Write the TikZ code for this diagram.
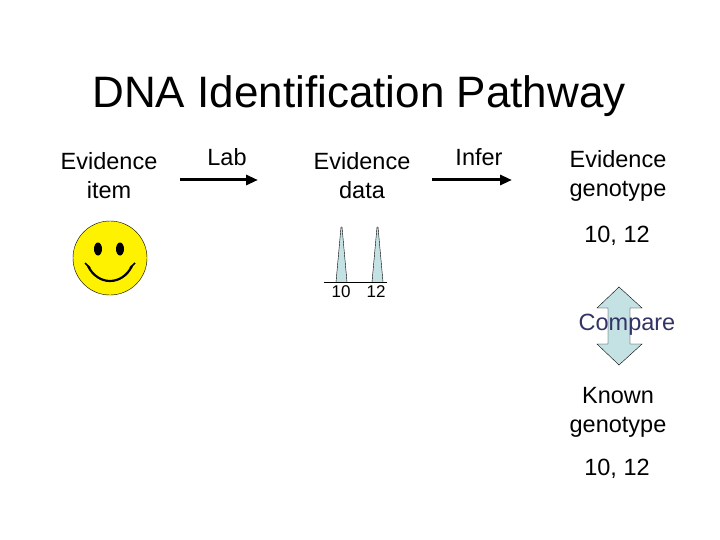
\documentclass[tikz,border=0pt]{standalone}
\usepackage{fontspec}
\setmainfont{Liberation Sans}
\usetikzlibrary{arrows.meta}
\definecolor{navy}{HTML}{333366}
\definecolor{peak}{HTML}{C4E2E4}
\begin{document}
\begin{tikzpicture}[x=1pt,y=-1pt,
  txt/.style={font=\fontsize{23.5}{29}\selectfont,align=center,inner sep=0},
  flow/.style={-{Triangle[length=12pt,width=10pt]},line width=3pt}]
\useasboundingbox (0,0) rectangle (720,540);
\node[font=\fontsize{44}{48}\selectfont] (title) at (359,96) {DNA Identification Pathway};
\node[txt] (ei) at (109,176) {Evidence\\item};
\node[txt] (ed) at (362,176) {Evidence\\data};
\node[txt] (eg) at (618,176) {Evidence\\genotype};
\node[txt] (lab) at (227,157) {Lab};
\node[txt] (inf) at (479,157) {Infer};
\coordinate (a1) at (180,180); \coordinate (a2) at (258,180);
\coordinate (b1) at (432,180); \coordinate (b2) at (512,180);
\draw[flow] (a1) -- (a2);
\draw[flow] (b1) -- (b2);
\node[txt] (g1) at (617,236) {10, 12};
% smiley
\node[circle,draw=black,fill=yellow,minimum size=74pt,inner sep=0] (face) at (110,258) {};
\fill (98,249) ellipse (4pt and 6.5pt);
\fill (120,249) ellipse (4pt and 6.5pt);
\draw[line width=2.2pt] (88,266) .. controls (98,286) and (122,286) .. (132,266);
\draw[line width=1.5pt] (85,263)--(90,268) (135,263)--(130,268);
% peaks
\draw[fill=peak] (336,282) -- (341,227) -- (342,227) -- (347,282);
\draw[fill=peak] (372,282) -- (377,227) -- (378,227) -- (383,282);
\draw (324,282) -- (387,282);
\node[font=\fontsize{17}{20}\selectfont] (n10) at (341,292) {10};
\node[font=\fontsize{17}{20}\selectfont] (n12) at (376,292) {12};
% compare arrow
\draw[fill=peak] (619,287) -- (642,308) -- (630,308) -- (630,344) -- (642,344) -- (619,365)
  -- (597,344) -- (608,344) -- (608,308) -- (597,308) -- cycle;
\node[txt,text=navy] (ct) at (627,325) {Compare};
\node[txt] (kg) at (618,412) {Known\\genotype};
\node[txt] (g2) at (617,469) {10, 12};
\end{tikzpicture}
\end{document}
